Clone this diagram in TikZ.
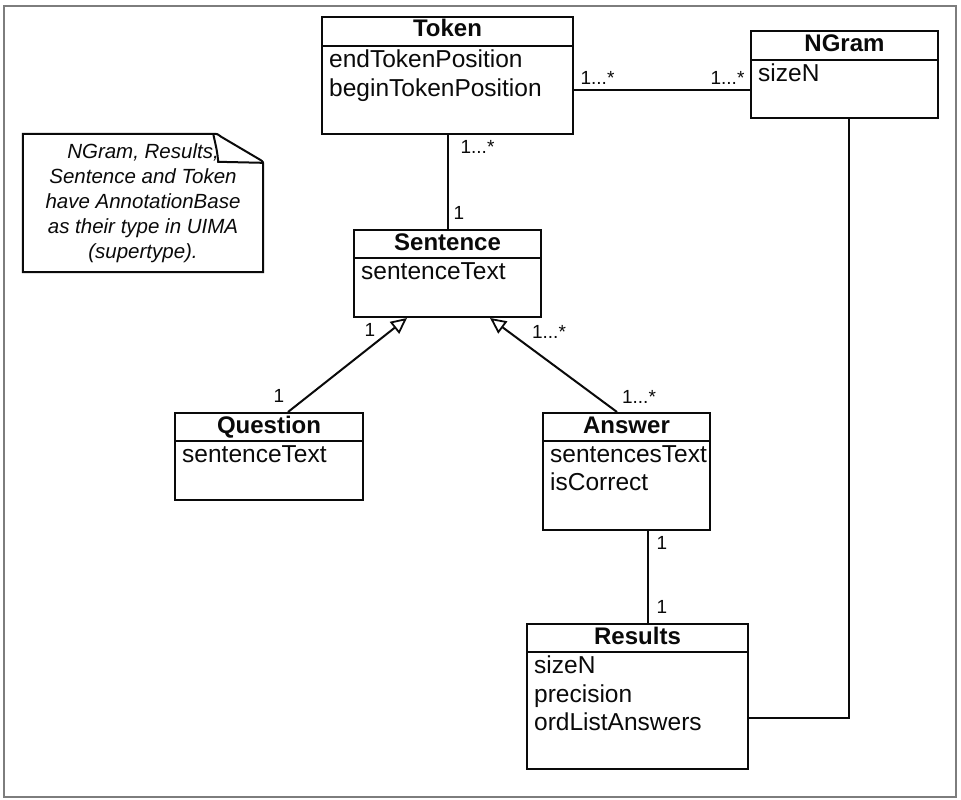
\documentclass[tikz,border=0pt]{standalone}
\usepackage{fontspec}
\setmainfont{Liberation Sans}
\usetikzlibrary{calc, positioning, arrows.meta}
\definecolor{FrameGrey}{RGB}{125, 125, 125}
\definecolor{InkBlack}{RGB}{10, 10, 10}

\begin{document}
\begin{tikzpicture}[x=1pt, y=-1pt, InkBlack,
    classbox/.style={draw, line width=2pt, inner sep=0pt},
    classtitle/.style={anchor=base, inner sep=0pt, font=\bfseries\fontsize{24}{28}\selectfont},
    classattr/.style={anchor=north west, align=left, inner xsep=8pt, inner ysep=4pt, font=\fontsize{24.5}{28.5}\selectfont},
    mult/.style={inner sep=0pt, font=\fontsize{19}{22}\selectfont},
    notetext/.style={align=center, inner sep=0pt, font=\itshape\fontsize{20.5}{25}\selectfont},
    assoc/.style={line width=2pt},
    inherit/.style={line width=2pt, -{Triangle[open, fill=white, length=16pt, width=15pt, line width=1.8pt]}}]
    \useasboundingbox (0,0) rectangle (961,800);

    % Marco
    \draw[FrameGrey, line width=2pt] (4,6) rectangle (956,797);

    % Token
    \node[classbox, minimum width=251pt, minimum height=117pt] (token) at (447.5,75.5) {};
    \draw[line width=2pt] ([yshift=-30pt]token.north west) -- ([yshift=-30pt]token.north east);
    \node[classtitle] (tokentitle) at ([yshift=-21pt]token.north) {Token};
    \node[classattr] (tokenattr) at ([yshift=-30pt]token.north west) {endTokenPosition\\beginTokenPosition};

    % NGram
    \node[classbox, minimum width=187pt, minimum height=87pt] (ngram) at (844.5,74.5) {};
    \draw[line width=2pt] ([yshift=-30pt]ngram.north west) -- ([yshift=-30pt]ngram.north east);
    \node[classtitle] (ngramtitle) at ([yshift=-22pt]ngram.north) {NGram};
    \node[classattr] (ngramattr) at ([yshift=-30pt]ngram.north west) {sizeN};

    % Sentence
    \node[classbox, minimum width=187pt, minimum height=87pt] (sentence) at (447.5,273.5) {};
    \draw[line width=2pt] ([yshift=-29pt]sentence.north west) -- ([yshift=-29pt]sentence.north east);
    \node[classtitle] (sentencetitle) at ([yshift=-21.5pt]sentence.north) {Sentence};
    \node[classattr] (sentenceattr) at ([yshift=-29pt]sentence.north west) {sentenceText};

    % Question
    \node[classbox, minimum width=188pt, minimum height=87pt] (question) at (269,456.5) {};
    \draw[line width=2pt] ([yshift=-29pt]question.north west) -- ([yshift=-29pt]question.north east);
    \node[classtitle] (questiontitle) at ([yshift=-21.5pt]question.north) {Question};
    \node[classattr] (questionattr) at ([yshift=-29pt]question.north west) {sentenceText};

    % Answer
    \node[classbox, minimum width=167pt, minimum height=117pt] (answer) at (626.5,471.5) {};
    \draw[line width=2pt] ([yshift=-29pt]answer.north west) -- ([yshift=-29pt]answer.north east);
    \node[classtitle] (answertitle) at ([yshift=-21.5pt]answer.north) {Answer};
    \node[classattr] (answerattr) at ([yshift=-29pt]answer.north west) {sentencesText\\isCorrect};

    % Results
    \node[classbox, minimum width=221pt, minimum height=145pt] (results) at (637.5,696.5) {};
    \draw[line width=2pt] ([yshift=-29pt]results.north west) -- ([yshift=-29pt]results.north east);
    \node[classtitle] (resultstitle) at ([yshift=-21.5pt]results.north) {Results};
    \node[classattr] (resultsattr) at ([yshift=-29pt]results.north west) {sizeN\\precision\\ordListAnswers};

    % Nota
    \node[notetext, minimum width=240pt, minimum height=138pt] (note) at (143,203)
        {NGram, Results,\\Sentence and Token\\have AnnotationBase\\as their type in UIMA\\(supertype).};
    \draw[line width=2pt] (note.south west) -- (note.north west) -- ([xshift=-50pt]note.north east)
        .. controls ([xshift=-46pt]note.north east) .. ([xshift=-42pt, yshift=-3pt]note.north east)
        -- ([xshift=-3pt, yshift=-26pt]note.north east)
        .. controls ([yshift=-28pt]note.north east) .. ([yshift=-32pt]note.north east)
        -- (note.south east) -- cycle;
    \draw[line width=2pt] ([xshift=-50pt]note.north east)
        .. controls ([xshift=-46pt, yshift=-18pt]note.north east) .. ([xshift=-45pt, yshift=-28pt]note.north east)
        -- ([xshift=-1pt, yshift=-29pt]note.north east);

    % Token -- NGram
    \draw[assoc] ([yshift=-14.5pt]token.east) -- ([yshift=-14.5pt]token.east -| ngram.west);
    \node[mult] (tokenngram1) at (597.5,77.5) {1...*};
    \node[mult] (tokenngram2) at (727.5,77.5) {1...*};

    % Token -- Sentence
    \draw[assoc] (token.south) -- (sentence.north);
    \node[mult] (tokensent1) at (477.5,147) {1...*};
    \node[mult] (tokensent2) at (459,213) {1};

    % Question -> Sentence
    \draw[inherit] ([xshift=19pt]question.north) -- ([xshift=-40.5pt]sentence.south);
    \node[mult] (questsent1) at (370,330) {1};
    \node[mult] (questsent2) at (279,396) {1};

    % Answer -> Sentence
    \draw[inherit] ([xshift=-9.5pt]answer.north) -- ([xshift=42.5pt]sentence.south);
    \node[mult] (anssent1) at (549,332) {1...*};
    \node[mult] (anssent2) at (639,397) {1...*};

    % Answer -- Results
    \draw[assoc] ([xshift=21.5pt]answer.south) -- ([xshift=21.5pt]answer.south |- results.north);
    \node[mult] (ansres1) at (662,543) {1};
    \node[mult] (ansres2) at (662,607) {1};

    % NGram -- Results
    \draw[assoc] ([xshift=4.5pt]ngram.south) |- ([yshift=-21.5pt]results.east);
\end{tikzpicture}
\end{document}
